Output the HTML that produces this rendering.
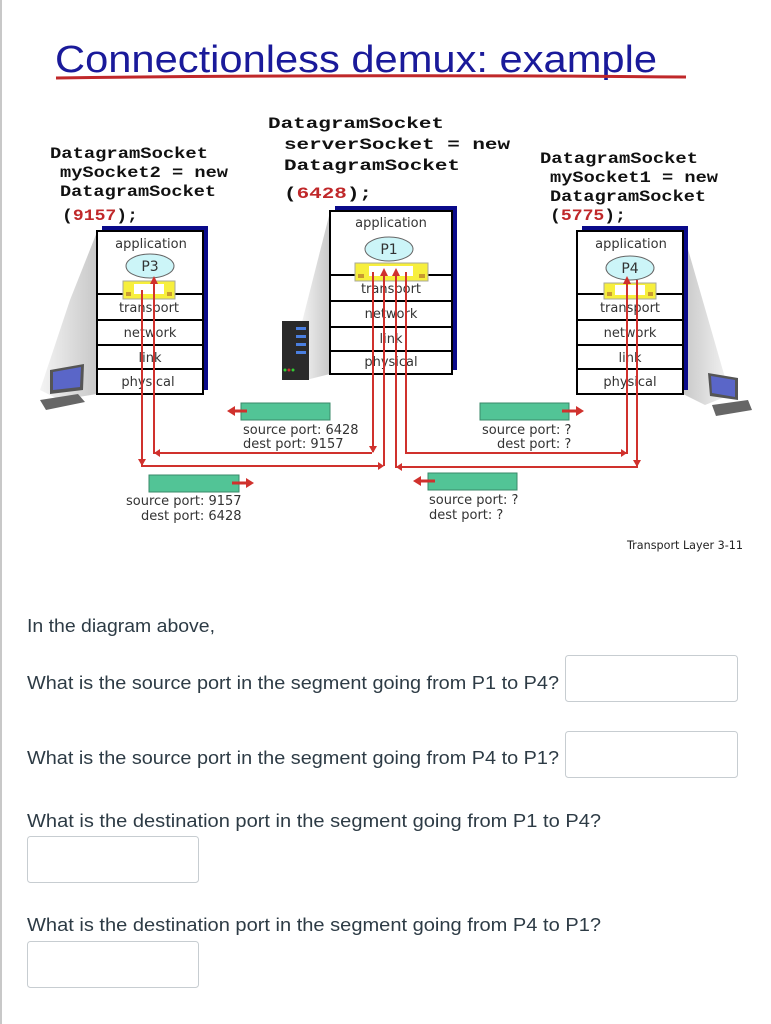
<!DOCTYPE html>
<html><head><meta charset="utf-8"><style>
html,body{margin:0;padding:0;background:#fff;}
svg{display:block;}
.m{font-family:"Liberation Mono",monospace;font-weight:bold;font-size:16px;fill:#111;}
.r{fill:#c0282a;}
.l{font-family:"DejaVu Sans","Liberation Sans",sans-serif;font-size:13px;fill:#333;}
.q{font-family:"Liberation Sans",sans-serif;font-size:18px;fill:#2d3b45;}
</style></head><body>
<svg width="771" height="1024" viewBox="0 0 771 1024" xmlns="http://www.w3.org/2000/svg">
<defs>
<linearGradient id="gl" x1="0" x2="1"><stop offset="0" stop-color="#f4f4f4"/><stop offset="1" stop-color="#c8c8c8"/></linearGradient>
<linearGradient id="gr" x1="1" x2="0"><stop offset="0" stop-color="#f4f4f4"/><stop offset="1" stop-color="#c8c8c8"/></linearGradient>
</defs>
<rect x="0" y="0" width="2" height="1024" fill="#c8c8c8"/>
<!-- title -->
<text x="55" y="72" font-family="Liberation Sans, sans-serif" font-size="38" fill="#1a1a9a" textLength="602" lengthAdjust="spacingAndGlyphs">Connectionless demux: example</text>
<path d="M56 78 Q360 74 686 77" stroke="#c0282a" stroke-width="3" fill="none"/>
<!-- code blocks -->
<text class="m" x="50" y="158" textLength="158" lengthAdjust="spacingAndGlyphs">DatagramSocket</text>
<text class="m" x="60" y="177" textLength="168" lengthAdjust="spacingAndGlyphs">mySocket2 = new</text>
<text class="m" x="60" y="196" textLength="156" lengthAdjust="spacingAndGlyphs">DatagramSocket</text>
<text class="m" x="62" y="220" textLength="76" lengthAdjust="spacingAndGlyphs">(<tspan class="r">9157</tspan>);</text>
<text class="m" x="268" y="128" textLength="176" lengthAdjust="spacingAndGlyphs">DatagramSocket</text>
<text class="m" x="284" y="149" textLength="226" lengthAdjust="spacingAndGlyphs">serverSocket = new</text>
<text class="m" x="284" y="170" textLength="176" lengthAdjust="spacingAndGlyphs">DatagramSocket</text>
<text class="m" x="284" y="198" textLength="88" lengthAdjust="spacingAndGlyphs">(<tspan class="r">6428</tspan>);</text>
<text class="m" x="540" y="163" textLength="158" lengthAdjust="spacingAndGlyphs">DatagramSocket</text>
<text class="m" x="550" y="182" textLength="168" lengthAdjust="spacingAndGlyphs">mySocket1 = new</text>
<text class="m" x="550" y="201" textLength="156" lengthAdjust="spacingAndGlyphs">DatagramSocket</text>
<text class="m" x="550" y="220" textLength="76" lengthAdjust="spacingAndGlyphs">(<tspan class="r">5775</tspan>);</text>
<!-- shadows -->
<polygon points="97,232 97,394 60,400 40,390 70,300" fill="url(#gl)"/>
<polygon points="330,212 330,374 306,380 300,330" fill="url(#gl)"/>
<polygon points="683,232 683,394 705,405 730,395" fill="url(#gr)"/>
<!-- left laptop -->
<polygon points="50,370 84,364 83,390 50,394" fill="#555"/>
<polygon points="53,372 81,367 80,387 53,390" fill="#5a66c8"/>
<polygon points="40,400 78,394 85,402 46,410" fill="#666"/>
<!-- right laptop -->
<polygon points="708,373 738,378 738,400 710,396" fill="#555"/>
<polygon points="711,376 735,380 735,397 712,393" fill="#5a66c8"/>
<polygon points="712,405 748,400 752,410 716,416" fill="#666"/>
<!-- server -->
<rect x="282" y="321" width="27" height="59" fill="#2a2a2a"/>
<rect x="296" y="327" width="10" height="3" fill="#4a7fe0"/>
<rect x="296" y="335" width="10" height="3" fill="#4a7fe0"/>
<rect x="296" y="343" width="10" height="3" fill="#4a7fe0"/>
<rect x="296" y="351" width="10" height="3" fill="#4a7fe0"/>
<circle cx="285" cy="370" r="1.5" fill="#3c3"/><circle cx="289" cy="370" r="1.5" fill="#c33"/><circle cx="293" cy="370" r="1.5" fill="#3c3"/>
<!-- stacks -->
<g font-family="DejaVu Sans, Liberation Sans, sans-serif" font-size="13" fill="#333" text-anchor="middle">
<rect x="102" y="226" width="106" height="164" fill="#0a0a8a"/>
<rect x="97" y="231" width="106" height="163" fill="#fff" stroke="#000" stroke-width="2"/>
<line x1="97" y1="294" x2="203" y2="294" stroke="#000" stroke-width="2"/>
<line x1="97" y1="320" x2="203" y2="320" stroke="#000" stroke-width="2"/>
<line x1="97" y1="345" x2="203" y2="345" stroke="#000" stroke-width="2"/>
<line x1="97" y1="369" x2="203" y2="369" stroke="#000" stroke-width="2"/>
<text x="151" y="248">application</text>
<ellipse cx="150" cy="266" rx="24" ry="12" fill="#ccf5f8" stroke="#666"/>
<text x="150" y="271" font-size="14">P3</text>
<rect x="123" y="281" width="52" height="18" fill="#f7ef3c" stroke="#aa9"/>
<rect x="134" y="284" width="30" height="10" fill="#fff"/>
<rect x="126" y="292" width="5" height="4" fill="#c89a30"/><rect x="167" y="292" width="5" height="4" fill="#c89a30"/>
<text x="149" y="312">transport</text><text x="150" y="337">network</text><text x="150" y="362">link</text><text x="148" y="386">physical</text>
<rect x="335" y="206" width="122" height="164" fill="#0a0a8a"/>
<rect x="330" y="211" width="122" height="163" fill="#fff" stroke="#000" stroke-width="2"/>
<line x1="330" y1="275" x2="452" y2="275" stroke="#000" stroke-width="2"/>
<line x1="330" y1="301" x2="452" y2="301" stroke="#000" stroke-width="2"/>
<line x1="330" y1="327" x2="452" y2="327" stroke="#000" stroke-width="2"/>
<line x1="330" y1="351" x2="452" y2="351" stroke="#000" stroke-width="2"/>
<text x="391" y="227">application</text>
<ellipse cx="389" cy="249" rx="24" ry="12" fill="#ccf5f8" stroke="#666"/>
<text x="389" y="254" font-size="14">P1</text>
<rect x="355" y="263" width="73" height="18" fill="#f7ef3c" stroke="#aa9"/>
<rect x="369" y="266" width="44" height="10" fill="#fff"/>
<rect x="358" y="274" width="6" height="4" fill="#c89a30"/><rect x="419" y="274" width="6" height="4" fill="#c89a30"/>
<text x="391" y="293">transport</text><text x="391" y="318">network</text><text x="391" y="343">link</text><text x="391" y="366">physical</text>
<rect x="582" y="226" width="106" height="164" fill="#0a0a8a"/>
<rect x="577" y="231" width="106" height="163" fill="#fff" stroke="#000" stroke-width="2"/>
<line x1="577" y1="294" x2="683" y2="294" stroke="#000" stroke-width="2"/>
<line x1="577" y1="320" x2="683" y2="320" stroke="#000" stroke-width="2"/>
<line x1="577" y1="345" x2="683" y2="345" stroke="#000" stroke-width="2"/>
<line x1="577" y1="369" x2="683" y2="369" stroke="#000" stroke-width="2"/>
<text x="631" y="248">application</text>
<ellipse cx="630" cy="268" rx="24" ry="12" fill="#ccf5f8" stroke="#666"/>
<text x="630" y="273" font-size="14">P4</text>
<rect x="604" y="283" width="52" height="16" fill="#f7ef3c" stroke="#aa9"/>
<rect x="615" y="285" width="30" height="10" fill="#fff"/>
<rect x="607" y="292" width="5" height="4" fill="#c89a30"/><rect x="648" y="292" width="5" height="4" fill="#c89a30"/>
<text x="630" y="312">transport</text><text x="630" y="337">network</text><text x="630" y="362">link</text><text x="630" y="386">physical</text>
</g>
<!-- red connectors -->
<g stroke="#d0312d" stroke-width="2" fill="none">
<polyline points="142,290 142,466 380,466"/>
<polyline points="154,280 154,453 372,453"/>
<polyline points="373,272 373,452"/>
<polyline points="384,272 384,466"/>
<polyline points="396,272 396,467 637,467 637,280"/>
<polyline points="406,272 406,453 627,453 627,282"/>
</g>
<g fill="#d0312d">
<polygon points="154,276 150,284 158,284"/>
<polygon points="384,268 380,276 388,276"/>
<polygon points="396,268 392,276 400,276"/>
<polygon points="627,276 623,284 631,284"/>
<polygon points="154,453 160,449 160,457"/>
<polygon points="384,466 378,462 378,470"/>
<polygon points="373,453 369,446 377,446"/>
<polygon points="396,467 402,463 402,471"/>
<polygon points="627,453 621,449 621,457"/>
<polygon points="142,466 138,459 146,459"/>
<polygon points="637,467 633,460 641,460"/>
</g>
<g fill="#52c496" stroke="#3a8a6a" stroke-width="1">
<rect x="241" y="403" width="89" height="17"/>
<rect x="149" y="475" width="90" height="17"/>
<rect x="480" y="403" width="89" height="17"/>
<rect x="428" y="473" width="89" height="17"/>
</g>
<g stroke="#d0312d" stroke-width="3" fill="#d0312d">
<line x1="234" y1="411" x2="247" y2="411"/><polygon points="227,411 235,406 235,416" stroke="none"/>
<line x1="232" y1="483" x2="246" y2="483"/><polygon points="254,483 246,478 246,488" stroke="none"/>
<line x1="562" y1="411" x2="576" y2="411"/><polygon points="584,411 576,406 576,416" stroke="none"/>
<line x1="420" y1="481" x2="435" y2="481"/><polygon points="413,481 421,476 421,486" stroke="none"/>
</g>
<text class="l" x="243" y="434">source port: 6428</text>
<text class="l" x="243" y="448">dest port: 9157</text>
<text class="l" x="126" y="505">source port: 9157</text>
<text class="l" x="141" y="520">dest port: 6428</text>
<text class="l" x="482" y="434">source port: ?</text>
<text class="l" x="497" y="448">dest port: ?</text>
<text class="l" x="429" y="504">source port: ?</text>
<text class="l" x="429" y="519">dest port: ?</text>
<text x="627" y="549" font-family="DejaVu Sans, Liberation Sans, sans-serif" font-size="11.5" fill="#222" textLength="116" lengthAdjust="spacingAndGlyphs">Transport Layer 3-11</text>
<text class="q" x="27" y="632" textLength="188" lengthAdjust="spacingAndGlyphs">In the diagram above,</text>
<text class="q" x="27" y="689" textLength="532" lengthAdjust="spacingAndGlyphs">What is the source port in the segment going from P1 to P4?</text>
<text class="q" x="27" y="764" textLength="532" lengthAdjust="spacingAndGlyphs">What is the source port in the segment going from P4 to P1?</text>
<text class="q" x="27" y="827" textLength="574" lengthAdjust="spacingAndGlyphs">What is the destination port in the segment going from P1 to P4?</text>
<text class="q" x="27" y="931" textLength="574" lengthAdjust="spacingAndGlyphs">What is the destination port in the segment going from P4 to P1?</text>
<g fill="#fff" stroke="#c7cdd1" stroke-width="1">
<rect x="565.5" y="655.5" width="172" height="46" rx="3"/>
<rect x="565.5" y="731.5" width="172" height="46" rx="3"/>
<rect x="27.5" y="836.5" width="171" height="46" rx="3"/>
<rect x="27.5" y="941.5" width="171" height="46" rx="3"/>
</g>
</svg>
</body></html>
